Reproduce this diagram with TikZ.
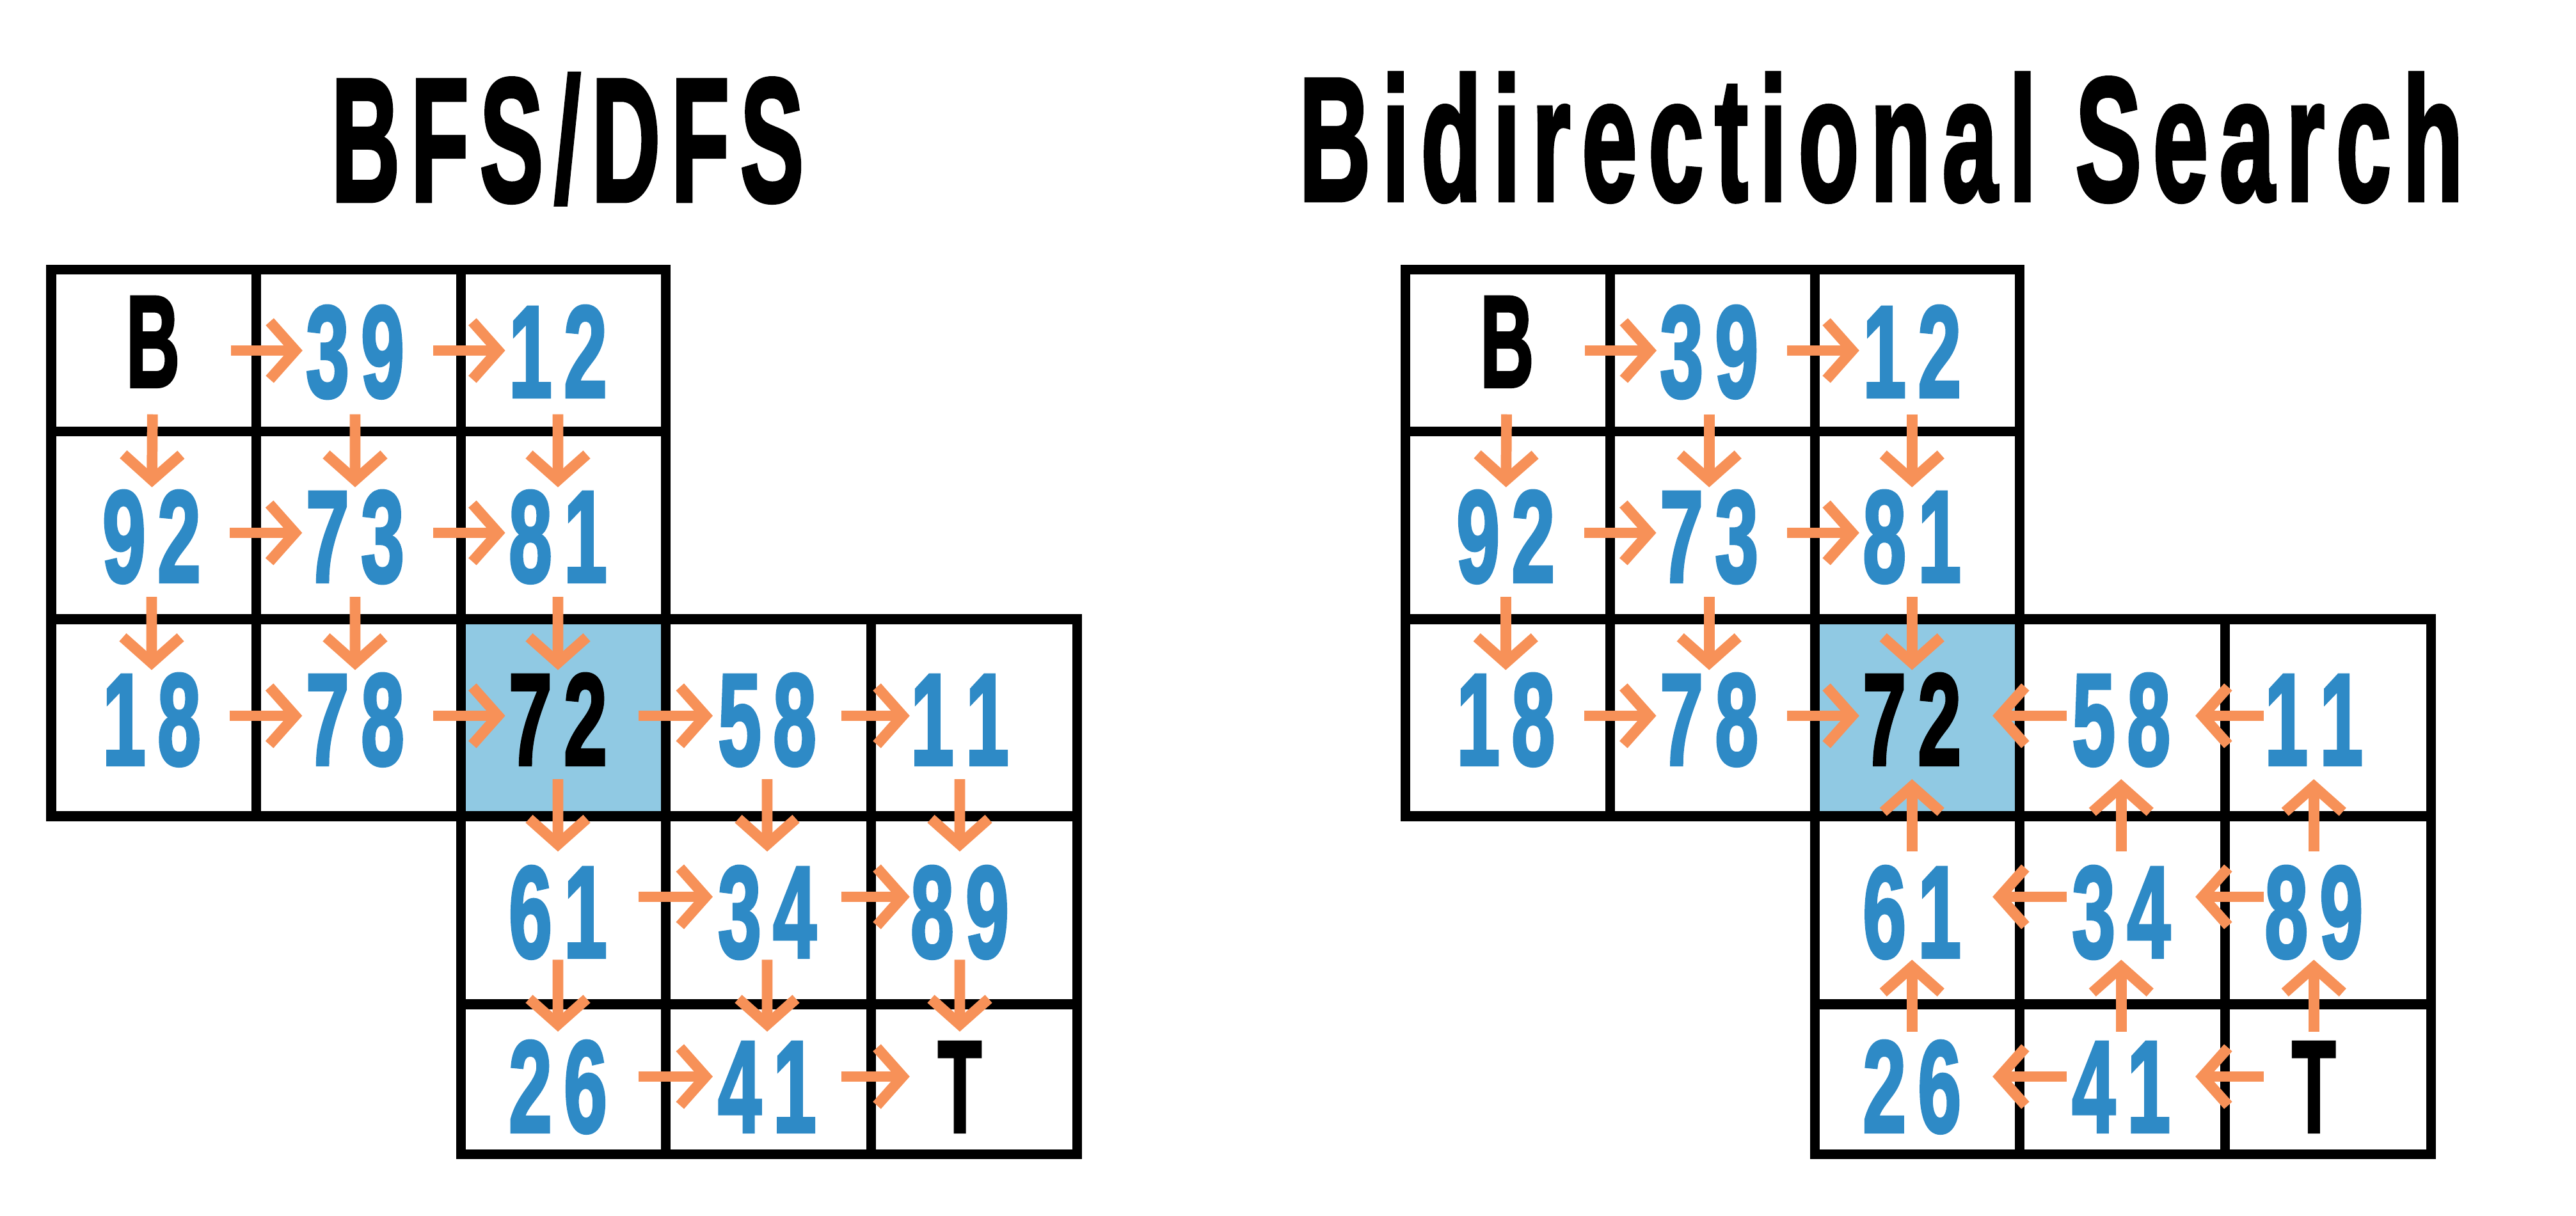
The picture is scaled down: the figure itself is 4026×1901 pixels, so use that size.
\documentclass[tikz,border=0pt]{standalone}
\usepackage{fontspec}
\setmainfont{Liberation Sans}
\newfontfamily\hv{Liberation Sans Bold}[FakeBold=2.5]
\newfontfamily\hvt{Liberation Sans Bold}[FakeBold=2.5, LetterSpace=11.5]
\usetikzlibrary{arrows.meta,calc}
\definecolor{numblue}{HTML}{2E8AC6}
\definecolor{arrorange}{HTML}{F79158}
\definecolor{cellblue}{HTML}{90C9E3}
\newcommand\dg[2]{\scalebox{0.6}[1]{#1\kern0.3cm#2}}
\newcommand\ltr[2]{\scalebox{#1}[1]{#2}}
\tikzset{
  gridline/.style={draw=black, line width=0.15cm, line join=miter},
  num/.style={inner sep=0pt, text depth=0pt, text=numblue, font=\fontsize{58pt}{60pt}\hv},
  ra/.style={text height=1.45cm},
  rb/.style={text height=1.53cm},
  rc/.style={text height=1.89cm},
  rd/.style={text height=1.73cm},
  rbee/.style={text height=1.13cm},
  blk/.style={text=black},
  arr/.style={draw=arrorange, line width=0.167cm, -{Straight Barb[length=0.40cm, width=0.90cm]}},
  ttl/.style={inner sep=0pt, anchor=base, font=\fontsize{78pt}{80pt}\hvt},
}
\newcommand\fwdH[2]{\draw[arr] ($(#1)!0.385!(#2)$) -- ($(#1)!0.74!(#2)$);}
\newcommand\revH[2]{\draw[arr] ($(#1)!0.26!(#2)$) -- ($(#1)!0.615!(#2)$);}
\newcommand\fwdV[2]{\draw[arr] ($(#1)!0.35!(#2)$) -- ($(#1)!0.75!(#2)$);}
\newcommand\revV[2]{\draw[arr] ($(#1)!0.25!(#2)$) -- ($(#1)!0.65!(#2)$);}
\newcommand\gridlines{%
  \fill[cellblue] (720,968) rectangle (1040,1276);
  \draw[gridline] (80,422) rectangle (1040,1276);
  \draw[gridline] (400,422) -- (400,1276) (720,422) -- (720,1276);
  \draw[gridline] (80,675) -- (1040,675) (80,968) -- (1040,968);
  \draw[gridline] (720,968) rectangle (1683,1804);
  \draw[gridline] (1040,968) -- (1040,1804) (1361,968) -- (1361,1804);
  \draw[gridline] (720,1276) -- (1683,1276) (720,1570) -- (1683,1570);
}
\newcommand\cellnodes[1]{%
  \node[num,rbee,blk] (#1b) at (239,548) {\ltr{0.57}{B}};
  \node[num,ra] (#139) at (555,548) {\dg{3}{9}};
  \node[num,ra] (#112) at (872,548) {\dg{1}{2}};
  \node[num,rb] (#192) at (237,833) {\dg{9}{2}};
  \node[num,rb] (#173) at (555,833) {\dg{7}{3}};
  \node[num,rb] (#181) at (872,833) {\dg{8}{1}};
  \node[num,rb] (#118) at (237,1119) {\dg{1}{8}};
  \node[num,rb] (#178) at (555,1119) {\dg{7}{8}};
  \node[num,rb,blk] (#172) at (872,1119) {\dg{7}{2}};
  \node[num,rb] (#158) at (1199,1119) {\dg{5}{8}};
  \node[num,rb] (#111) at (1500,1119) {\dg{1}{1}};
  \node[num,rc] (#161) at (872,1402) {\dg{6}{1}};
  \node[num,rc] (#134) at (1199,1402) {\dg{3}{4}};
  \node[num,rc] (#189) at (1500,1402) {\dg{8}{9}};
  \node[num,rd] (#126) at (872,1683) {\dg{2}{6}};
  \node[num,rd] (#141) at (1199,1683) {\dg{4}{1}};
  \node[num,rd,blk] (#1t) at (1500,1683) {\ltr{0.55}{T}};
}
\begin{document}
\begin{tikzpicture}[x=0.01cm,y=-0.01cm]
\useasboundingbox (0,0) rectangle (4026,1901);
\gridlines
\cellnodes{L}
\begin{scope}[xshift=21.15cm]
\gridlines
\cellnodes{R}
\end{scope}
\node[ttl] (t1) at (887,314) {\ltr{0.542}{BFS/DFS}};
\node[ttl] (t2) at (2940,313) {\ltr{0.565}{Bidirectional Search}};
% BFS/DFS arrows
\fwdH{Lb}{L39} \fwdH{L39}{L12}
\fwdH{L92}{L73} \fwdH{L73}{L81}
\fwdH{L18}{L78} \fwdH{L78}{L72} \fwdH{L72}{L58} \fwdH{L58}{L11}
\fwdH{L61}{L34} \fwdH{L34}{L89}
\fwdH{L26}{L41} \fwdH{L41}{Lt}
\fwdV{Lb}{L92} \fwdV{L39}{L73} \fwdV{L12}{L81}
\fwdV{L92}{L18} \fwdV{L73}{L78} \fwdV{L81}{L72}
\fwdV{L72}{L61} \fwdV{L58}{L34} \fwdV{L11}{L89}
\fwdV{L61}{L26} \fwdV{L34}{L41} \fwdV{L89}{Lt}
% Bidirectional arrows
\fwdH{Rb}{R39} \fwdH{R39}{R12}
\fwdH{R92}{R73} \fwdH{R73}{R81}
\fwdH{R18}{R78} \fwdH{R78}{R72}
\revH{R58}{R72} \revH{R11}{R58}
\revH{R34}{R61} \revH{R89}{R34}
\revH{R41}{R26} \revH{Rt}{R41}
\fwdV{Rb}{R92} \fwdV{R39}{R73} \fwdV{R12}{R81}
\fwdV{R92}{R18} \fwdV{R73}{R78} \fwdV{R81}{R72}
\revV{R61}{R72} \revV{R34}{R58} \revV{R89}{R11}
\revV{R26}{R61} \revV{R41}{R34} \revV{Rt}{R89}
\end{tikzpicture}
\end{document}
